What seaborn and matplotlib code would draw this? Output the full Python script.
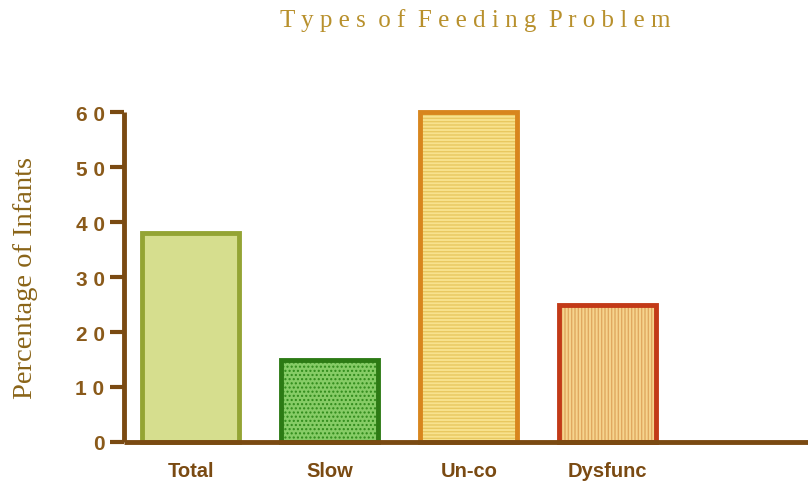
import pandas as pd
import matplotlib.pyplot as plt
import seaborn as sns

# chart data
categories = ["Total", "Slow", "Un-co", "Dysfunc"]
percent_infants = [38, 15, 60, 25]
y_ticks = [0, 10, 20, 30, 40, 50, 60]
y_tick_labels = ["0", "1 0", "2 0", "3 0", "4 0", "5 0", "6 0"]

fills = ["#d6de8e", "#86cc66", "#f8e28e", "#f6d48e"]
edges = ["#94a434", "#2c7a14", "#d8861e", "#c23a18"]
hatches = ["", "....", "-----", "|||||"]
hatch_colors = ["#c8d27a", "#2f8a1a", "#e8c860", "#e0a860"]

df = pd.DataFrame({"category": categories, "value": percent_infants})

sns.set_style("white")
plt.rcParams["font.family"] = ["Liberation Sans", "DejaVu Sans"]

fig = plt.figure(figsize=(8.08, 4.85), dpi=100)
ax = fig.add_axes([0.1535, 0.0866, 0.8465, 0.6804])

sns.barplot(data=df, x="category", y="value", hue="category",
            palette=fills, width=0.70, legend=False, ax=ax, saturation=1)

for bar, ec, h, hc in zip(ax.patches, edges, hatches, hatch_colors):
    bar.set_edgecolor(ec)
    bar.set_linewidth(3.5)
    bar.set_clip_on(False)
    if h:
        bar.set_hatch(h)
        bar._hatch_color = plt.matplotlib.colors.to_rgba(hc)

axis_col = "#7a4a12"
ax.set_xlim(-0.48, 4.44)
ax.set_ylim(0, 60)
ax.set_yticks(y_ticks)
ax.set_yticklabels(y_tick_labels, fontsize=15, fontweight="bold", color="#8a5a1a")
ax.tick_params(axis="y", left=True, length=10, width=3, color=axis_col,
               direction="out", pad=4)
ax.tick_params(axis="x", bottom=False, length=0, pad=14)
for lab in ax.get_xticklabels():
    lab.set_fontsize(14.5)
    lab.set_fontweight("bold")
    lab.set_color(axis_col)

sns.despine(ax=ax)
for side in ["left", "bottom"]:
    ax.spines[side].set_linewidth(3.5)
    ax.spines[side].set_color(axis_col)
    ax.spines[side].set_capstyle("butt")

ax.set_xlabel("")
ax.set_ylabel("Percentage of Infants", family="Liberation Serif", fontsize=20.5,
              color="#8a6418", labelpad=27)

title = "  ".join(" ".join(w) for w in "Types of Feeding Problem".split())
fig.text(0.588, 0.958, title, ha="center", va="center",
         family="Liberation Serif", fontsize=18, color="#b8902c")

fig.savefig("out.png", dpi=100)
